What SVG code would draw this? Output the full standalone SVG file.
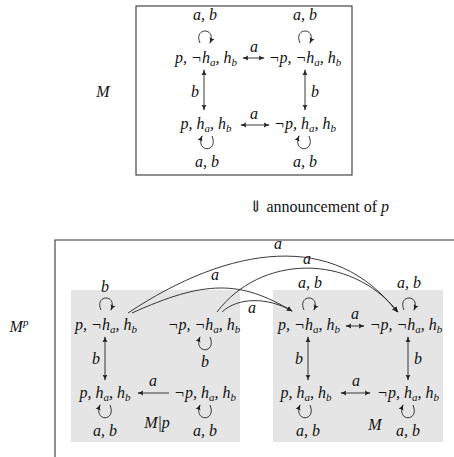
<svg xmlns="http://www.w3.org/2000/svg" width="454" height="457" viewBox="0 0 454 457">
<defs>
<style>
.m{font-family:"Liberation Serif","DejaVu Serif",serif;font-style:italic;font-size:16px;fill:#111;text-anchor:middle}
.r{font-family:"Liberation Serif","DejaVu Serif",serif;font-size:16px;fill:#111}
.s{font-size:11px}
.e{fill:none;stroke:#222;stroke-width:0.9}
.frame{fill:none;stroke:#333;stroke-width:1.1}
.gray{fill:#e5e5e5}
</style>
<marker id="ah" viewBox="0 0 8 8" refX="7" refY="4" markerWidth="6" markerHeight="6" markerUnits="userSpaceOnUse" orient="auto-start-reverse">
<path d="M0,0.5 Q3,3 8,4 Q3,5 0,7.5 Q1.5,4 0,0.5 Z" fill="#222"/>
</marker>
</defs>

<!-- frames -->
<rect class="frame" x="136" y="6" width="216" height="169"/>
<path class="frame" d="M55,457 V240 H454"/>
<rect class="gray" x="71" y="290" width="169" height="152"/>
<rect class="gray" x="273" y="290" width="170" height="152"/>

<!-- plain labels -->
<text class="m" x="103" y="97">M</text>
<text class="r" x="249" y="212"><tspan style="font-family:'DejaVu Serif',serif;font-size:16px">⇓</tspan> announcement of <tspan font-style="italic">p</tspan></text>
<text class="m" x="19" y="332">M<tspan class="s" dy="-6">p</tspan></text>
<text class="m" x="157" y="428">M|p</text>
<text class="m" x="375" y="430">M</text>

<!-- top model M -->
<g id="M-pnhahb">
<text class="m" x="206" y="63">p, ¬h<tspan class="s" dy="3">a</tspan><tspan dy="-3">, h</tspan><tspan class="s" dy="3">b</tspan></text>
</g>
<g id="M-npnhahb">
<text class="m" x="305" y="63">¬p, ¬h<tspan class="s" dy="3">a</tspan><tspan dy="-3">, h</tspan><tspan class="s" dy="3">b</tspan></text>
</g>
<g id="M-phahb">
<text class="m" x="206" y="129">p, h<tspan class="s" dy="3">a</tspan><tspan dy="-3">, h</tspan><tspan class="s" dy="3">b</tspan></text>
</g>
<g id="M-nphahb">
<text class="m" x="305" y="129">¬p, h<tspan class="s" dy="3">a</tspan><tspan dy="-3">, h</tspan><tspan class="s" dy="3">b</tspan></text>
</g>

<!-- left panel M|p -->
<g id="L-pnhahb">
<text class="m" x="106" y="330">p, ¬h<tspan class="s" dy="3">a</tspan><tspan dy="-3">, h</tspan><tspan class="s" dy="3">b</tspan></text>
</g>
<g id="L-npnhahb">
<text class="m" x="204" y="330">¬p, ¬h<tspan class="s" dy="3">a</tspan><tspan dy="-3">, h</tspan><tspan class="s" dy="3">b</tspan></text>
</g>
<g id="L-phahb">
<text class="m" x="105" y="398">p, h<tspan class="s" dy="3">a</tspan><tspan dy="-3">, h</tspan><tspan class="s" dy="3">b</tspan></text>
</g>
<g id="L-nphahb">
<text class="m" x="205" y="398">¬p, h<tspan class="s" dy="3">a</tspan><tspan dy="-3">, h</tspan><tspan class="s" dy="3">b</tspan></text>
</g>

<!-- right panel M -->
<g id="R-pnhahb">
<text class="m" x="309" y="330">p, ¬h<tspan class="s" dy="3">a</tspan><tspan dy="-3">, h</tspan><tspan class="s" dy="3">b</tspan></text>
</g>
<g id="R-npnhahb">
<text class="m" x="406" y="330">¬p, ¬h<tspan class="s" dy="3">a</tspan><tspan dy="-3">, h</tspan><tspan class="s" dy="3">b</tspan></text>
</g>
<g id="R-phahb">
<text class="m" x="306" y="398">p, h<tspan class="s" dy="3">a</tspan><tspan dy="-3">, h</tspan><tspan class="s" dy="3">b</tspan></text>
</g>
<g id="R-nphahb">
<text class="m" x="408" y="398">¬p, h<tspan class="s" dy="3">a</tspan><tspan dy="-3">, h</tspan><tspan class="s" dy="3">b</tspan></text>
</g>

<!-- connectors -->
<g id="connectors">
<!-- top model -->
<path class="e" d="M200,43 C193,27 217,27 210,43" marker-end="url(#ah)"/>
<path class="e" d="M300,43 C293,27 317,27 310,43" marker-end="url(#ah)"/>
<path class="e" d="M212,136 C219,153 195,153 202,136" marker-end="url(#ah)"/>
<path class="e" d="M309,136 C316,153 292,153 299,136" marker-end="url(#ah)"/>
<path class="e" d="M243,58 H264" marker-start="url(#ah)" marker-end="url(#ah)"/>
<path class="e" d="M241,125 H269" marker-start="url(#ah)" marker-end="url(#ah)"/>
<path class="e" d="M204,70 V110" marker-start="url(#ah)" marker-end="url(#ah)"/>
<path class="e" d="M305,70 V110" marker-start="url(#ah)" marker-end="url(#ah)"/>

<!-- left panel -->
<path class="e" d="M101,310 C94,294 118,294 111,310" marker-end="url(#ah)"/>
<path class="e" d="M210,337 C217,354 193,354 200,337" marker-end="url(#ah)"/>
<path class="e" d="M110,405 C117,422 93,422 100,405" marker-end="url(#ah)"/>
<path class="e" d="M210,405 C217,422 193,422 200,405" marker-end="url(#ah)"/>
<path class="e" d="M105,337 V380" marker-start="url(#ah)" marker-end="url(#ah)"/>
<path class="e" d="M169,393 H138" marker-end="url(#ah)"/>

<!-- right panel -->
<path class="e" d="M304,310 C297,294 321,294 314,310" marker-end="url(#ah)"/>
<path class="e" d="M404,310 C397,294 421,294 414,310" marker-end="url(#ah)"/>
<path class="e" d="M310,405 C317,422 293,422 300,405" marker-end="url(#ah)"/>
<path class="e" d="M413,405 C420,422 396,422 403,405" marker-end="url(#ah)"/>
<path class="e" d="M346,326 H364" marker-start="url(#ah)" marker-end="url(#ah)"/>
<path class="e" d="M341,393 H370" marker-start="url(#ah)" marker-end="url(#ah)"/>
<path class="e" d="M308,337 V380" marker-start="url(#ah)" marker-end="url(#ah)"/>
<path class="e" d="M408,337 V380" marker-start="url(#ah)" marker-end="url(#ah)"/>

<!-- cross curves -->
<path class="e" d="M128,313 C230,245 335,230 397,312" marker-end="url(#ah)"/>
<path class="e" d="M132,313 C205,280 240,280 292,311" marker-end="url(#ah)"/>
<path class="e" d="M217,312 C260,255 350,252 398,312" marker-end="url(#ah)"/>
<path class="e" d="M222,312 C238,297 268,297 292,311" marker-end="url(#ah)"/>
</g>

<!-- edge labels -->
<g id="labels">
<text class="m" x="205" y="20">a, b</text>
<text class="m" x="305" y="20">a, b</text>
<text class="m" x="207" y="167">a, b</text>
<text class="m" x="305" y="167">a, b</text>
<text class="m" x="254" y="52">a</text>
<text class="m" x="254" y="119">a</text>
<text class="m" x="195" y="97">b</text>
<text class="m" x="315" y="97">b</text>

<text class="m" x="105" y="292">b</text>
<text class="m" x="205" y="367">b</text>
<text class="m" x="96" y="364">b</text>
<text class="m" x="153" y="386">a</text>
<text class="m" x="105" y="436">a, b</text>
<text class="m" x="205" y="436">a, b</text>

<text class="m" x="310" y="288">a, b</text>
<text class="m" x="409" y="288">a, b</text>
<text class="m" x="355" y="319">a</text>
<text class="m" x="299" y="364">b</text>
<text class="m" x="418" y="364">b</text>
<text class="m" x="356" y="386">a</text>
<text class="m" x="308" y="436">a, b</text>
<text class="m" x="408" y="436">a, b</text>

<text class="m" x="278" y="249">a</text>
<text class="m" x="215" y="280">a</text>
<text class="m" x="307" y="264">a</text>
<text class="m" x="252" y="313">a</text>
</g>
</svg>
